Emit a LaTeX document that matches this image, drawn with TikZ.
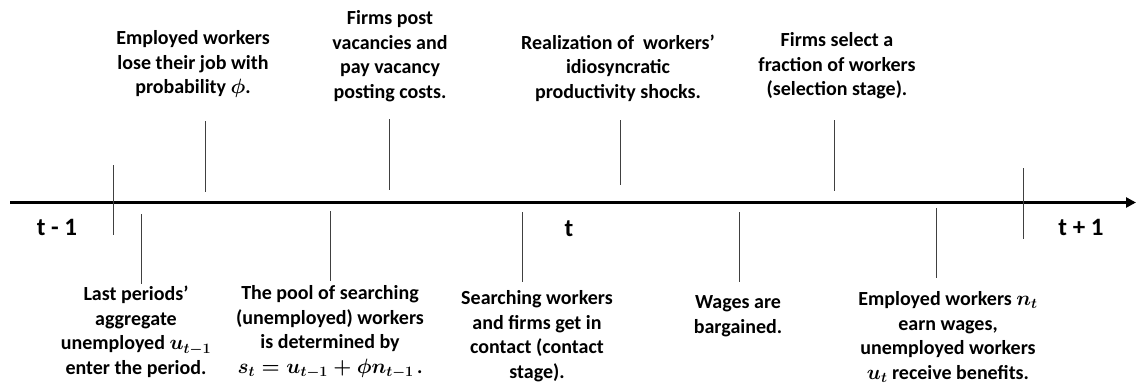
\documentclass[tikz,border=0pt]{standalone}
\usepackage{fontspec}
\setmainfont{Carlito}
\usetikzlibrary{arrows.meta}
\tikzset{
  lbl/.style={align=center, inner sep=0pt, font=\bfseries\boldmath\fontsize{20}{24.5}\selectfont},
  tlbl/.style={inner sep=0pt, font=\bfseries\fontsize{25}{30}\selectfont},
  tick/.style={line width=1pt, draw=black!75},
  axis/.style={line width=2.6pt, -{Triangle[length=10pt,width=10pt]}}
}
\begin{document}
\begin{tikzpicture}[x=1pt,y=-1pt]
\useasboundingbox (0,0) rectangle (1136,383);
% axis
\coordinate (a0) at (10,202.5);
\coordinate (a1) at (1136,202.5);
\draw[axis] (a0) -- (a1);
% period labels
\node[tlbl] (tm1) at (57,227) {t - 1};
\node[tlbl] (t0) at (569,229) {t};
\node[tlbl] (tp1) at (1081,227) {t + 1};
% period ticks
\draw[tick] (113,165) -- (113,235);
\draw[tick] (1023,168) -- (1023,239);
% upper events
\node[lbl] (lose) at (193,64) {Employed workers\\lose their job with\\probability $\phi$.};
\draw[tick] (205,121) -- (205,192);
\node[lbl] (post) at (390,56) {Firms post\\vacancies and\\pay vacancy\\posting costs.};
\draw[tick] (389,119) -- (389,190);
\node[lbl] (real) at (618,68) {Realization of\ \ workers'\\idiosyncratic\\productivity shocks.};
\draw[tick] (620,120) -- (620,185);
\node[lbl] (sel) at (837,66) {Firms select a\\fraction of workers\\(selection stage).};
\draw[tick] (834,120) -- (834,191);
% lower events
\draw[tick] (141,214) -- (141,284);
\node[lbl] (last) at (136,332) {Last periods'\\aggregate\\unemployed $u_{t-1}$\\enter the period.};
\draw[tick] (330,211) -- (330,281);
\node[lbl] (pool) at (330,332) {The pool of searching\\(unemployed) workers\\is determined by\\$s_t=u_{t-1}+\phi n_{t-1}$\,.};
\draw[tick] (522,212) -- (522,282);
\node[lbl] (cont) at (537,336) {Searching workers\\and firms get in\\contact (contact\\stage).};
\draw[tick] (739,212) -- (739,282);
\node[lbl] (wage) at (738,316) {Wages are\\bargained.};
\draw[tick] (936,208) -- (936,278);
\node[lbl] (emp) at (948,337) {Employed workers $n_t$\\earn wages,\\unemployed workers\\$u_t$ receive benefits.};
\end{tikzpicture}
\end{document}
